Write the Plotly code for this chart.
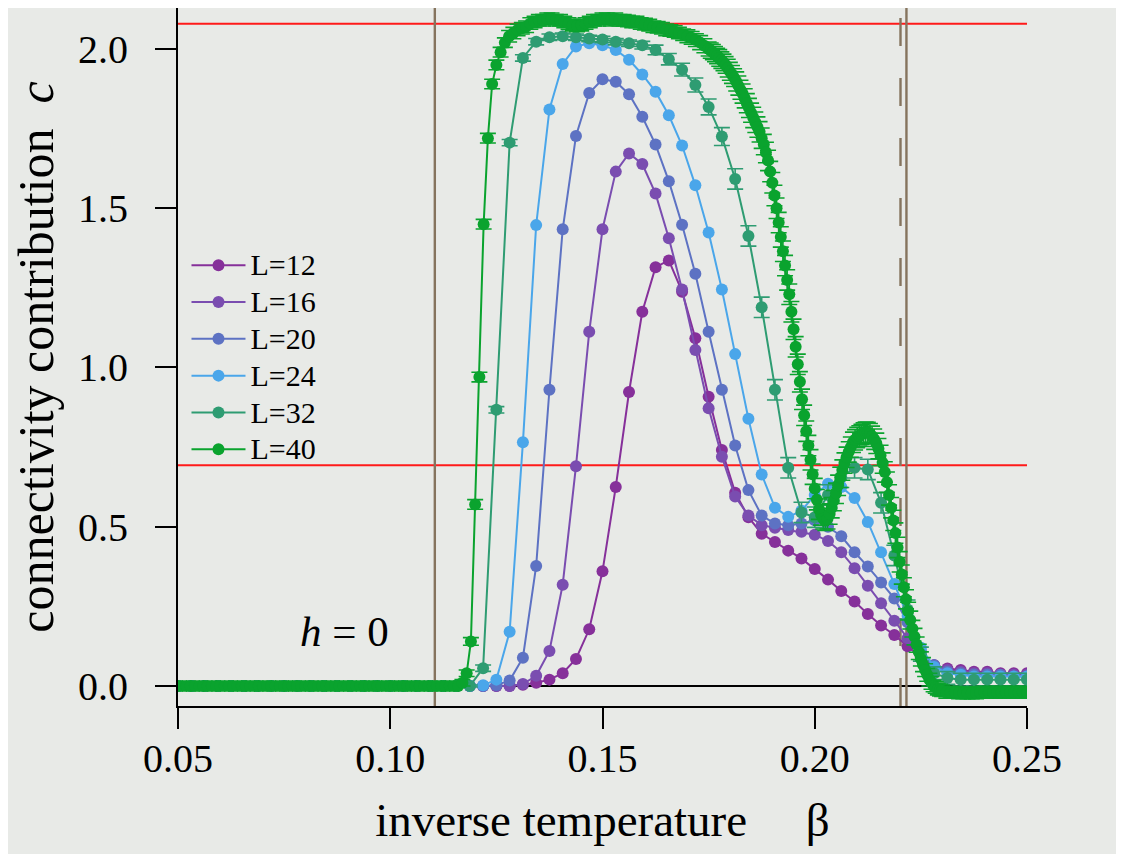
import plotly.graph_objects as go

# ---------------- data ----------------
beta_grid = [0.050000, 0.053125, 0.056250, 0.059375, 0.062500, 0.065625, 0.068750, 0.071875,
             0.075000, 0.078125, 0.081250, 0.084375, 0.087500, 0.090625, 0.093750, 0.096875,
             0.100000, 0.103125, 0.106250, 0.109375, 0.112500, 0.115625, 0.118750, 0.121875,
             0.125000, 0.128125, 0.131250, 0.134375, 0.137500, 0.140625, 0.143750, 0.146875,
             0.150000, 0.153125, 0.156250, 0.159375, 0.162500, 0.165625, 0.168750, 0.171875,
             0.175000, 0.178125, 0.181250, 0.184375, 0.187500, 0.190625, 0.193750, 0.196875,
             0.200000, 0.203125, 0.206250, 0.209375, 0.212500, 0.215625, 0.218750, 0.221875,
             0.225000, 0.228125, 0.231250, 0.234375, 0.237500, 0.240625, 0.243750, 0.246875,
             0.250000]

c_L12 = [0, 0, 0, 0, 0, 0, 0, 0, 0, 0, 0, 0, 0, 0, 0, 0, 0, 0, 0, 0, 0, 0, 0, 0, 0, 0, 0.004,
         0.01, 0.02, 0.04, 0.085, 0.178, 0.36, 0.625, 0.923, 1.175, 1.315, 1.336, 1.238, 1.092,
         0.908, 0.741, 0.607, 0.53, 0.478, 0.452, 0.425, 0.40, 0.367, 0.334, 0.298, 0.265, 0.226,
         0.19, 0.16, 0.125, 0.09, 0.065, 0.055, 0.05, 0.045, 0.045, 0.04, 0.04, 0.04]

c_L16 = [0, 0, 0, 0, 0, 0, 0, 0, 0, 0, 0, 0, 0, 0, 0, 0, 0, 0, 0, 0, 0, 0, 0, 0, 0, 0,
         0.006, 0.032, 0.11, 0.318, 0.69, 1.112, 1.434, 1.615, 1.672, 1.639, 1.546, 1.406, 1.245,
         1.055, 0.872, 0.72, 0.595, 0.535, 0.505, 0.497, 0.49, 0.484, 0.475, 0.455, 0.42, 0.37,
         0.315, 0.26, 0.205, 0.15, 0.095, 0.065, 0.05, 0.045, 0.04, 0.04, 0.035, 0.035, 0.035]

c_L20 = [0, 0, 0, 0, 0, 0, 0, 0, 0, 0, 0, 0, 0, 0, 0, 0, 0, 0, 0, 0, 0, 0, 0, 0,
         0.003, 0.017, 0.089, 0.377, 0.93, 1.434, 1.727, 1.862, 1.905, 1.897, 1.858, 1.787, 1.70,
         1.585, 1.448, 1.294, 1.112, 0.93, 0.755, 0.615, 0.535, 0.51, 0.505, 0.51, 0.52, 0.50,
         0.47, 0.42, 0.375, 0.325, 0.275, 0.20, 0.11, 0.065, 0.045, 0.04, 0.035, 0.035, 0.035,
         0.03, 0.03]

c_L24 = [0, 0, 0, 0, 0, 0, 0, 0, 0, 0, 0, 0, 0, 0, 0, 0, 0, 0, 0, 0, 0, 0, 0,
         0.002, 0.02, 0.17, 0.765, 1.447, 1.81, 1.953, 2.008, 2.018, 2.012, 1.997, 1.966, 1.92,
         1.866, 1.792, 1.697, 1.572, 1.424, 1.245, 1.042, 0.839, 0.664, 0.56, 0.531, 0.55, 0.60,
         0.635, 0.625, 0.59, 0.515, 0.42, 0.32, 0.22, 0.12, 0.06, 0.04, 0.035, 0.03, 0.03, 0.03,
         0.03, 0.03]

c_L32 = [0, 0, 0, 0, 0, 0, 0, 0, 0, 0, 0, 0, 0, 0, 0, 0, 0, 0, 0, 0, 0, 0, 0,
         0.056, 0.867, 1.706, 1.972, 2.023, 2.037, 2.04, 2.037, 2.033, 2.03, 2.023, 2.018, 2.012,
         1.997, 1.968, 1.935, 1.887, 1.818, 1.725, 1.592, 1.413, 1.189, 0.93, 0.685, 0.545, 0.53,
         0.60, 0.655, 0.685, 0.68, 0.575, 0.41, 0.24, 0.10, 0.04, 0.025, 0.02, 0.02, 0.02, 0.02,
         0.02, 0.02]

err_L32 = [0.003, 0.003, 0.003, 0.003, 0.003, 0.003, 0.003, 0.003, 0.003, 0.003, 0.003, 0.003,
           0.003, 0.003, 0.003, 0.003, 0.003, 0.003, 0.003, 0.003, 0.003, 0.003, 0.003,
           0.01, 0.01, 0.01, 0.01, 0.01, 0.01, 0.01, 0.01, 0.01, 0.01, 0.01, 0.01, 0.012,
           0.015, 0.018, 0.02, 0.022, 0.025, 0.028, 0.032, 0.032, 0.032, 0.032, 0.032, 0.032,
           0.032, 0.032, 0.032, 0.032, 0.032, 0.032, 0.032, 0.03, 0.022, 0.02, 0.02, 0.02,
           0.02, 0.02, 0.02, 0.02, 0.02]

beta_L40 = [0.050, 0.051, 0.052, 0.053, 0.054, 0.055, 0.056, 0.057, 0.058, 0.059,
            0.060, 0.061, 0.062, 0.063, 0.064, 0.065, 0.066, 0.067, 0.068, 0.069,
            0.070, 0.071, 0.072, 0.073, 0.074, 0.075, 0.076, 0.077, 0.078, 0.079,
            0.080, 0.081, 0.082, 0.083, 0.084, 0.085, 0.086, 0.087, 0.088, 0.089,
            0.090, 0.091, 0.092, 0.093, 0.094, 0.095, 0.096, 0.097, 0.098, 0.099,
            0.100, 0.101, 0.102, 0.103, 0.104, 0.105, 0.106, 0.107, 0.108, 0.109,
            0.110, 0.111, 0.112, 0.113, 0.114, 0.115, 0.116, 0.117, 0.118, 0.119,
            0.120, 0.121, 0.122, 0.123, 0.124, 0.125, 0.126, 0.127, 0.128, 0.129,
            0.130, 0.131, 0.132, 0.133, 0.134, 0.135, 0.136, 0.137, 0.138, 0.139,
            0.140, 0.141, 0.142, 0.143, 0.144, 0.145, 0.146, 0.147, 0.148, 0.149,
            0.150, 0.151, 0.152, 0.153, 0.154, 0.155, 0.156, 0.157, 0.158, 0.159,
            0.160, 0.161, 0.162, 0.163, 0.164, 0.165, 0.166, 0.167, 0.168, 0.169,
            0.170, 0.171, 0.172, 0.173, 0.174, 0.175,
            0.1755, 0.1760, 0.1765, 0.1770, 0.1775, 0.1780, 0.1785, 0.1790, 0.1795, 0.1800,
            0.1805, 0.1810, 0.1815, 0.1820, 0.1825, 0.1830, 0.1835, 0.1840, 0.1845, 0.1850,
            0.1855, 0.1860, 0.1865, 0.1870, 0.1875, 0.1880, 0.1885, 0.1890, 0.1895, 0.1900,
            0.1905, 0.1910, 0.1915, 0.1920, 0.1925, 0.1930, 0.1935, 0.1940, 0.1945, 0.1950,
            0.1955, 0.1960, 0.1965, 0.1970, 0.1975, 0.1980, 0.1985, 0.1990, 0.1995, 0.2000,
            0.2005, 0.2010, 0.2015, 0.2020, 0.2025, 0.2030, 0.2035, 0.2040, 0.2045, 0.2050,
            0.2055, 0.2060, 0.2065, 0.2070, 0.2075, 0.2080, 0.2085, 0.2090, 0.2095, 0.2100,
            0.2105, 0.2110, 0.2115, 0.2120, 0.2125, 0.2130, 0.2135, 0.2140, 0.2145, 0.2150,
            0.2155, 0.2160, 0.2165, 0.2170, 0.2175, 0.2180, 0.2185, 0.2190, 0.2195, 0.2200,
            0.2205, 0.2210, 0.2215, 0.2220, 0.2225, 0.2230, 0.2235, 0.2240, 0.2245, 0.2250,
            0.2255, 0.2260, 0.2265, 0.2270, 0.2275, 0.2280, 0.2285, 0.2290, 0.2295, 0.2300,
            0.231, 0.232, 0.233, 0.234, 0.235, 0.236, 0.237, 0.238, 0.239, 0.240,
            0.241, 0.242, 0.243, 0.244, 0.245, 0.246, 0.247, 0.248, 0.249, 0.250]

c_L40 = [0, 0, 0, 0, 0, 0, 0, 0, 0, 0,
         0, 0, 0, 0, 0, 0, 0, 0, 0, 0,
         0, 0, 0, 0, 0, 0, 0, 0, 0, 0,
         0, 0, 0, 0, 0, 0, 0, 0, 0, 0,
         0, 0, 0, 0, 0, 0, 0, 0, 0, 0,
         0, 0, 0, 0, 0, 0, 0, 0, 0, 0,
         0, 0, 0, 0, 0, 0, 0, 0.01, 0.04, 0.14,
         0.57, 0.97, 1.45, 1.72, 1.89, 1.95, 1.99, 2.02, 2.04, 2.05,
         2.06, 2.065, 2.07, 2.08, 2.085, 2.09, 2.09, 2.095, 2.095, 2.09,
         2.09, 2.085, 2.08, 2.075, 2.072, 2.075, 2.08, 2.085, 2.09, 2.09,
         2.095, 2.095, 2.09, 2.095, 2.09, 2.09, 2.088, 2.085, 2.085, 2.08,
         2.078, 2.075, 2.07, 2.068, 2.065, 2.06, 2.058, 2.055, 2.05, 2.045,
         2.04, 2.035, 2.028, 2.02, 2.01, 2.0,
         1.995, 1.990, 1.984, 1.978, 1.972, 1.965, 1.958, 1.950, 1.940, 1.930,
         1.920, 1.910, 1.898, 1.885, 1.872, 1.860, 1.845, 1.830, 1.815, 1.800,
         1.785, 1.770, 1.755, 1.740, 1.720, 1.700, 1.675, 1.650, 1.615, 1.580,
         1.540, 1.500, 1.455, 1.410, 1.365, 1.320, 1.275, 1.230, 1.175, 1.120,
         1.065, 1.010, 0.955, 0.900, 0.850, 0.800, 0.755, 0.710, 0.665, 0.620,
         0.585, 0.555, 0.537, 0.525, 0.520, 0.525, 0.540, 0.560, 0.582, 0.605,
         0.630, 0.655, 0.678, 0.700, 0.718, 0.735, 0.750, 0.765, 0.773, 0.780,
         0.785, 0.790, 0.794, 0.797, 0.796, 0.792, 0.784, 0.775, 0.762, 0.745,
         0.724, 0.700, 0.672, 0.640, 0.600, 0.560, 0.520, 0.480, 0.435, 0.390,
         0.350, 0.310, 0.272, 0.235, 0.207, 0.180, 0.155, 0.130, 0.107, 0.085,
         0.067, 0.050, 0.035, 0.020, 0.010, 0.000, -0.005, -0.010, -0.013, -0.015,
         -0.02, -0.02, -0.02, -0.022, -0.022, -0.022, -0.022, -0.022, -0.02, -0.02,
         -0.02, -0.02, -0.02, -0.02, -0.02, -0.02, -0.02, -0.02, -0.02, -0.02]

err_L40 = [0.003, 0.003, 0.003, 0.003, 0.003, 0.003, 0.003, 0.003, 0.003, 0.003,
           0.003, 0.003, 0.003, 0.003, 0.003, 0.003, 0.003, 0.003, 0.003, 0.003,
           0.003, 0.003, 0.003, 0.003, 0.003, 0.003, 0.003, 0.003, 0.003, 0.003,
           0.003, 0.003, 0.003, 0.003, 0.003, 0.003, 0.003, 0.003, 0.003, 0.003,
           0.003, 0.003, 0.003, 0.003, 0.003, 0.003, 0.003, 0.003, 0.003, 0.003,
           0.003, 0.003, 0.003, 0.003, 0.003, 0.003, 0.003, 0.003, 0.003, 0.003,
           0.003, 0.003, 0.003, 0.003, 0.003, 0.003, 0.003, 0.01, 0.01, 0.012,
           0.015, 0.015, 0.015, 0.015, 0.015, 0.015, 0.015, 0.015, 0.018, 0.018,
           0.018, 0.018, 0.018, 0.018, 0.018, 0.018, 0.018, 0.018, 0.018, 0.018,
           0.018, 0.018, 0.018, 0.018, 0.018, 0.018, 0.018, 0.018, 0.018, 0.018,
           0.018, 0.018, 0.018, 0.018, 0.018, 0.018, 0.018, 0.018, 0.018, 0.018,
           0.018, 0.018, 0.018, 0.018, 0.018, 0.018, 0.018, 0.018, 0.018, 0.018,
           0.02, 0.02, 0.02, 0.022, 0.022, 0.022,
           0.024, 0.024, 0.024, 0.024, 0.026, 0.026, 0.026, 0.026, 0.028, 0.028,
           0.028, 0.028, 0.03, 0.03, 0.03, 0.03, 0.03, 0.03, 0.03, 0.03,
           0.032, 0.032, 0.032, 0.032, 0.032, 0.032, 0.032, 0.032, 0.032, 0.032,
           0.032, 0.032, 0.032, 0.032, 0.032, 0.032, 0.032, 0.032, 0.032, 0.032,
           0.032, 0.032, 0.032, 0.032, 0.032, 0.032, 0.032, 0.032, 0.032, 0.032,
           0.032, 0.032, 0.032, 0.032, 0.032, 0.032, 0.032, 0.032, 0.032, 0.032,
           0.032, 0.032, 0.032, 0.032, 0.032, 0.032, 0.032, 0.032, 0.032, 0.032,
           0.032, 0.032, 0.032, 0.032, 0.032, 0.032, 0.032, 0.032, 0.032, 0.032,
           0.032, 0.032, 0.032, 0.032, 0.032, 0.032, 0.032, 0.032, 0.032, 0.032,
           0.03, 0.03, 0.03, 0.028, 0.028, 0.026, 0.026, 0.024, 0.024, 0.022,
           0.022, 0.02, 0.02, 0.02, 0.02, 0.018, 0.018, 0.018, 0.018, 0.018,
           0.018, 0.018, 0.018, 0.018, 0.018, 0.018, 0.018, 0.018, 0.018, 0.018,
           0.018, 0.018, 0.018, 0.018, 0.018, 0.018, 0.018, 0.018, 0.018, 0.018]

series_names = ["L=12", "L=16", "L=20", "L=24", "L=32", "L=40"]
series_colors = ["#86309a", "#7a4db0", "#5d72c3", "#4aa6ea", "#2e9c72", "#0aa32e"]

ln8 = 2.0794
ln2 = 0.6931
beta_low = 0.1105
beta_c_dash = 0.2202
beta_c = 0.2216

x_ticks = [0.05, 0.10, 0.15, 0.20, 0.25]
x_tick_text = ["0.05", "0.10", "0.15", "0.20", "0.25"]
y_ticks = [0.0, 0.5, 1.0, 1.5, 2.0]
y_tick_text = ["0.0", "0.5", "1.0", "1.5", "2.0"]

# ---------------- figure ----------------
FONT = "Liberation Serif, Times New Roman, serif"
BG = "#e8eae7"
fig = go.Figure()

series_x = [beta_grid, beta_grid, beta_grid, beta_grid, beta_grid, beta_L40]
series_y = [c_L12, c_L16, c_L20, c_L24, c_L32, c_L40]
series_err = [None, None, None, None, err_L32, err_L40]
for name, col, xs, ys, er in zip(series_names, series_colors, series_x, series_y, series_err):
    tr = dict(x=xs, y=ys, name="<span style='font-size:30px'>%s</span>" % name,
              mode="lines+markers",
              line=dict(color=col, width=2),
              marker=dict(color=col, size=12, line=dict(width=0)))
    if er is not None:
        tr["error_y"] = dict(type="data", array=er, visible=True, color=col,
                             thickness=1.6, width=8)
    fig.add_trace(go.Scatter(**tr))

# reference lines
for yv in (ln8, ln2):
    fig.add_shape(type="line", xref="paper", yref="y", x0=0, x1=1, y0=yv, y1=yv,
                  line=dict(color="#ff1a1a", width=2), layer="below")
fig.add_shape(type="line", xref="paper", yref="y", x0=0, x1=1, y0=0, y1=0,
              line=dict(color="black", width=2), layer="below")
fig.add_shape(type="line", xref="x", yref="paper", x0=beta_low, x1=beta_low, y0=0, y1=1,
              line=dict(color="#85745e", width=2.4), layer="below")
fig.add_shape(type="line", xref="x", yref="paper", x0=beta_c, x1=beta_c, y0=0, y1=1,
              line=dict(color="#85745e", width=2.4), layer="below")
fig.add_shape(type="line", xref="x", yref="paper", x0=beta_c_dash, x1=beta_c_dash, y0=0, y1=1,
              line=dict(color="#85745e", width=2.4, dash="28px,32px"), layer="below")

fig.add_annotation(x=0.0893, y=0.17, xref="x", yref="y", text="<i>h</i> = 0",
                   showarrow=False, font=dict(family=FONT, size=43, color="black"))

yr = [-0.0628, 2.1287]
fig.update_layout(
    width=1116, height=846,
    margin=dict(l=170, r=97, t=0, b=148, autoexpand=False),
    paper_bgcolor=BG, plot_bgcolor=BG,
    font=dict(family=FONT, color="black"),
    showlegend=True,
    legend=dict(x=0.010, y=0.665, xanchor="left", yanchor="top",
                bgcolor="rgba(0,0,0,0)", font=dict(family=FONT, size=26),
                tracegroupgap=0, itemwidth=54),
    xaxis=dict(range=[0.05, 0.25], tickvals=x_ticks, ticktext=x_tick_text,
               showgrid=False, zeroline=False, showline=True, linecolor="black",
               linewidth=2, mirror=True, ticks="outside", ticklen=21, tickwidth=2,
               tickcolor="black", tickfont=dict(family=FONT, size=40),
               ticklabelstandoff=-5,
               title=dict(text="inverse temperature\u2003 β",
                          font=dict(family=FONT, size=47), standoff=23)),
    yaxis=dict(range=yr, tickvals=y_ticks, ticktext=y_tick_text,
               showgrid=False, zeroline=False, showline=True, linecolor="black",
               linewidth=2, ticks="outside", ticklen=21, tickwidth=2,
               tickcolor="black", tickfont=dict(family=FONT, size=40),
               ticklabelstandoff=19,
               title=dict(text="connectivity contribution\u2002<i>c</i>",
                          font=dict(family=FONT, size=50), standoff=12)),
    yaxis2=dict(range=yr, tickvals=y_ticks, ticktext=y_tick_text, overlaying="y",
                side="right", showgrid=False, zeroline=False, showline=True,
                linecolor="black", linewidth=2, ticks="outside", ticklen=21,
                tickwidth=2, tickcolor="black", tickfont=dict(family=FONT, size=40),
                ticklabelstandoff=32),
)

fig.write_html("out.html")
